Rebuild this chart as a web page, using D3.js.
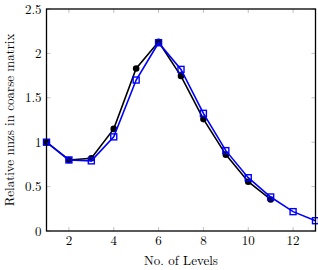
<!DOCTYPE html>
<html><head><meta charset="utf-8">
<script src="https://cdn.jsdelivr.net/npm/d3@7"></script>
<style>body{margin:0;background:#fff}svg{display:block}text{font-family:"Latin Modern Roman","DejaVu Serif",serif}</style>
</head><body><svg id="c" width="318" height="270"></svg>
<script>
const levelsA = [1,2,3,4,5,6,7,8,9,10,11];
const seriesA = [1.0,0.80,0.82,1.15,1.83,2.13,1.745,1.26,0.86,0.555,0.355];
const levelsB = [1,2,3,4,5,6,7,8,9,10,11,12,13];
const seriesB = [1.0,0.80,0.79,1.06,1.70,2.12,1.82,1.325,0.905,0.60,0.383,0.218,0.116];
const xTicks = [2,4,6,8,10,12];
const yTicks = [0,0.5,1,1.5,2,2.5];
const yTickLabels = ["0","0.5","1","1.5","2","2.5"];

const svg = d3.select("#c");
const L=46.5, R=315.5, T=9, B=231;
const x = d3.scaleLinear().domain([1,13]).range([L,R]);
const y = d3.scaleLinear().domain([0,2.5]).range([B,T]);
const fs = "13px";

const g = svg.append("g");
xTicks.forEach(t=>{
  g.append("line").attr("x1",x(t)).attr("x2",x(t)).attr("y1",B).attr("y2",B-4).attr("stroke","#999").attr("stroke-width",0.6);
  g.append("line").attr("x1",x(t)).attr("x2",x(t)).attr("y1",T).attr("y2",T+4).attr("stroke","#999").attr("stroke-width",0.6);
});
yTicks.forEach(t=>{
  g.append("line").attr("x1",L).attr("x2",L+4).attr("y1",y(t)).attr("y2",y(t)).attr("stroke","#999").attr("stroke-width",0.6);
  g.append("line").attr("x1",R).attr("x2",R-4).attr("y1",y(t)).attr("y2",y(t)).attr("stroke","#999").attr("stroke-width",0.6);
});
xTicks.forEach(t=>{
  svg.append("text").attr("x",x(t)).attr("y",B+14).attr("text-anchor","middle").attr("font-size",fs).text(t);
});
yTicks.forEach((t,i)=>{
  svg.append("text").attr("x",L-5).attr("y",y(t)+4.5).attr("text-anchor","end").attr("font-size",fs).text(yTickLabels[i]);
});

const line = d3.line().x(d=>x(d[0])).y(d=>y(d[1]));
const dA = levelsA.map((l,i)=>[l,seriesA[i]]);
const dB = levelsB.map((l,i)=>[l,seriesB[i]]);

svg.append("path").attr("d",line(dA)).attr("fill","none").attr("stroke","#000").attr("stroke-width",1.6);
svg.selectAll(".ca").data(dA).enter().append("circle").attr("cx",d=>x(d[0])).attr("cy",d=>y(d[1])).attr("r",3.3).attr("fill","#000");

svg.append("path").attr("d",line(dB)).attr("fill","none").attr("stroke","#0000ff").attr("stroke-width",1.6);
svg.selectAll(".sb").data(dB).enter().append("rect").attr("x",d=>x(d[0])-3).attr("y",d=>y(d[1])-3).attr("width",6).attr("height",6).attr("fill","none").attr("stroke","#0000ff").attr("stroke-width",1.4);

svg.append("rect").attr("x",L).attr("y",T).attr("width",R-L).attr("height",B-T).attr("fill","none").attr("stroke","#000").attr("stroke-width",1.3);

svg.append("text").attr("x",(L+R)/2).attr("y",265).attr("text-anchor","middle").attr("font-size",fs).text("No. of Levels");
svg.append("text").attr("transform",`translate(14,${(T+B)/2}) rotate(-90)`).attr("text-anchor","middle").attr("font-size",fs).text("Relative nnzs in coarse matrix");
</script></body></html>
